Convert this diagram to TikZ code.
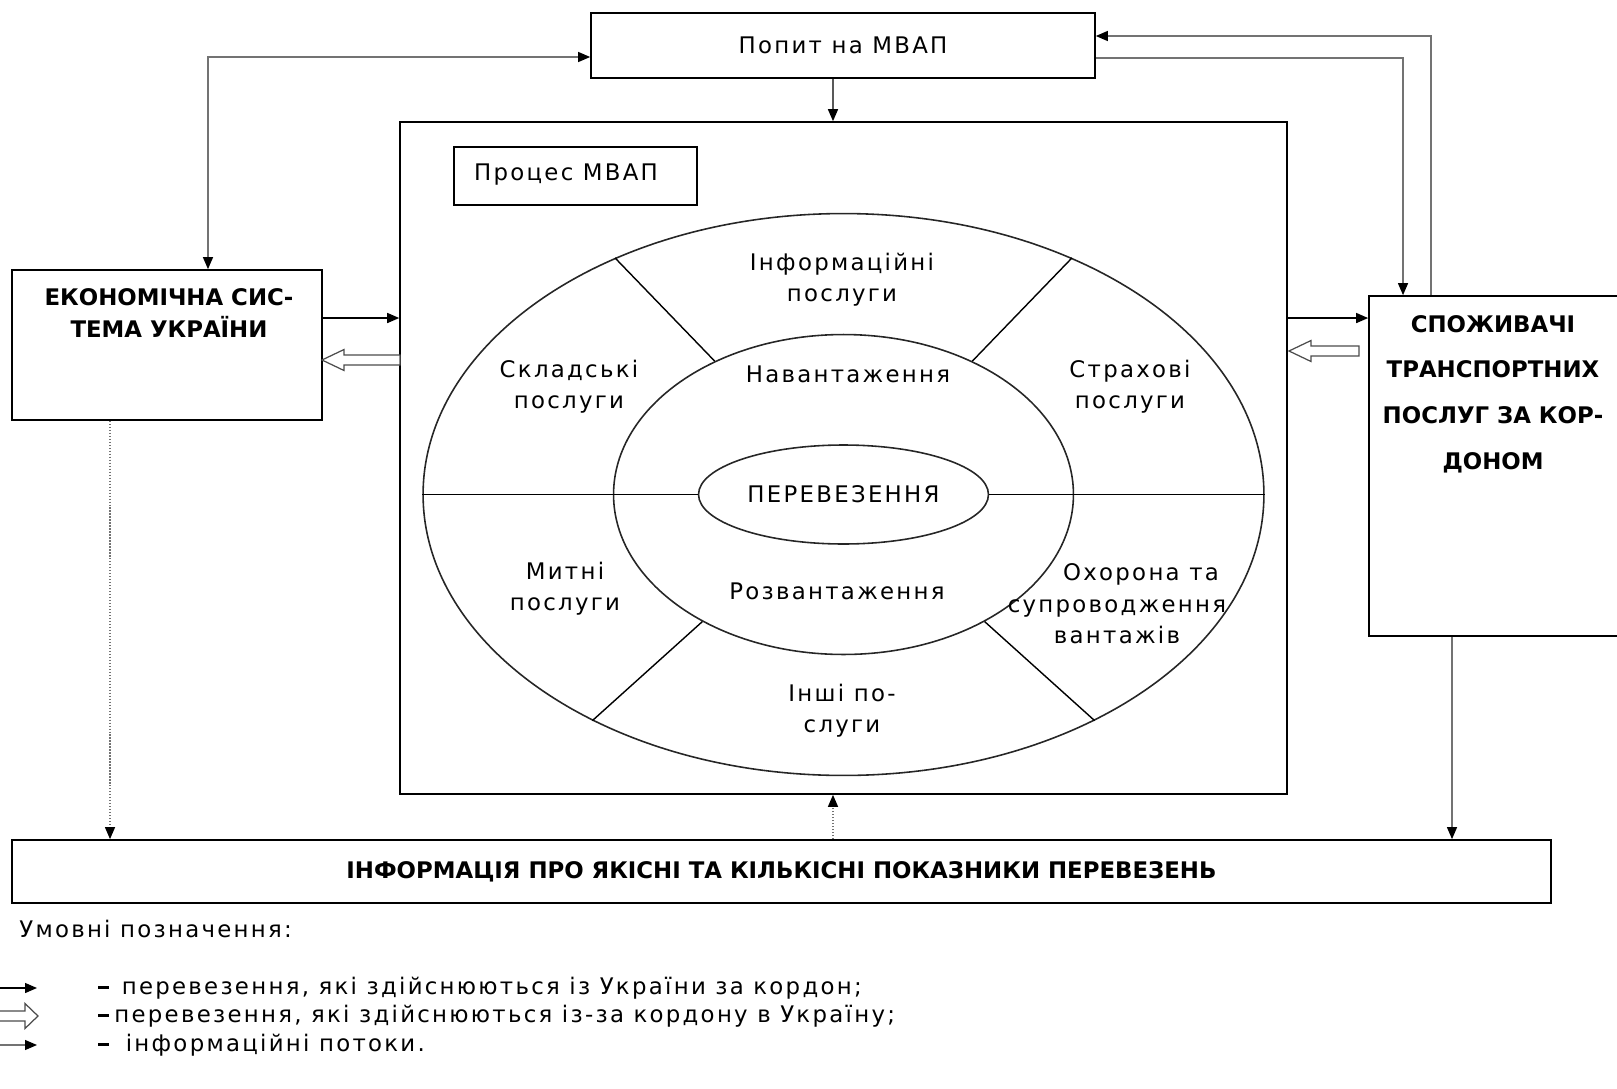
\documentclass[tikz,border=0pt]{standalone}
\usepackage{fontspec}
\setmainfont{DejaVu Sans}[LetterSpace=10, BoldFeatures={LetterSpace=0}]
\usetikzlibrary{arrows.meta, shapes.geometric}

\tikzset{
  >={Triangle[length=0.24cm, width=0.2cm, color=black]},
  box/.style={draw, line width=1pt, inner sep=0pt},
  txt/.style={font=\fontsize{13}{17.6}\selectfont, align=center, inner sep=0pt},
  hdr/.style={font=\fontsize{13}{18}\selectfont\bfseries, align=center, inner sep=0pt},
  oval/.style={draw=black!85, ellipse, line width=0.9pt, inner sep=0pt},
  divider/.style={line width=0.8pt},
  flow/.style={line width=0.8pt, ->},
  info/.style={draw=black!55, line width=0.7pt, ->},
  hollow/.style={draw=black!70, line width=0.7pt, fill=white}
}
\newcommand{\legdash}{\rule[0.22em]{0.22cm}{0.065cm}}

\begin{document}
\begin{tikzpicture}[x=0.02cm, y=-0.02cm]
\useasboundingbox (0,0) rectangle (1617,1089);

% Boxes
\node[box, txt, minimum width=10.08cm, minimum height=1.3cm] (demand) at (843,45.5) {Попит на МВАП};
\node[box, minimum width=17.74cm, minimum height=13.44cm] (process) at (843.5,458) {};
\node[box, minimum width=4.86cm, minimum height=1.16cm] (procname) at (575.5,176) {};
\node[txt] (procnametxt) at (566,175) {Процес МВАП};
\node[box, minimum width=6.2cm, minimum height=3cm] (econ) at (167,345) {};
\node[hdr] (econtxt) at (169,313) {ЕКОНОМІЧНА СИС-\\ТЕМА УКРАЇНИ};
\node[box, minimum width=5cm, minimum height=6.8cm] (consumers) at (1494,466) {};
\node[hdr, font=\fontsize{13}{26}\selectfont\bfseries] (consumerstxt) at (1493,394)
  {СПОЖИВАЧІ\\ТРАНСПОРТНИХ\\ПОСЛУГ ЗА КОР-\\ДОНОМ};
\node[box, hdr, minimum width=30.78cm, minimum height=1.26cm] (info) at (781.5,871.5)
  {ІНФОРМАЦІЯ ПРО ЯКІСНІ ТА КІЛЬКІСНІ ПОКАЗНИКИ ПЕРЕВЕЗЕНЬ};

% Ovals
\node[oval, minimum width=16.82cm, minimum height=11.24cm] (outer) at (843.5,494.5) {};
\node[oval, minimum width=9.2cm, minimum height=6.4cm] (middle) at (843.5,494.5) {};
\node[oval, txt, minimum width=5.8cm, minimum height=1.98cm] (inner) at (843.5,494.5) {ПЕРЕВЕЗЕННЯ};

% Dividing lines
\draw[divider] (outer.west) -- (inner.west);
\draw[divider] (inner.east) -- (outer.east);
\draw[divider] (outer.134) -- (middle.134);
\draw[divider] (outer.46) -- (middle.46);
\draw[divider] (outer.222) -- (middle.222);
\draw[divider] (outer.318) -- (middle.318);

% Sector labels
\node[txt] (infoserv) at (842,280) {Інформаційні\\послуги};
\node[txt] (store) at (569,387) {Складські\\послуги};
\node[txt] (insur) at (1130,387) {Страхові\\послуги};
\node[txt] (load) at (848,374) {Навантаження};
\node[txt] (unload) at (837,591) {Розвантаження};
\node[txt] (customs) at (565,589) {Митні\\послуги};
\node[txt, font=\fontsize{13}{18}\selectfont] (guard) at (1117,604)
  {\hspace*{0.96cm}Охорона та\\супроводження\\вантажів};
\node[txt] (other) at (842,711) {Інші по-\\слуги};

% Transport flows
\draw[flow] ([yshift=0.54cm]econ.east) -- ([yshift=0.54cm]econ.east -| process.west);
\draw[flow] ([yshift=2.8cm]process.east) -- ([yshift=2.8cm]process.east -| consumers.west);
\coordinate (backleft) at (322,360);
\draw[hollow] (backleft) -- ++(22,-10.5) -- ++(0,5.5) -- ++(56,0) -- ++(0,10)
  -- ++(-56,0) -- ++(0,5.5) -- cycle;
\coordinate (backright) at (1289,351);
\draw[hollow] (backright) -- ++(22,-10.5) -- ++(0,5.5) -- ++(48,0) -- ++(0,10)
  -- ++(-48,0) -- ++(0,5.5) -- cycle;

% Information flows
\draw[flow] ([xshift=-0.2cm]demand.south) -- ([xshift=-0.21cm]process.north);
\draw[info, <->] ([xshift=0.82cm]econ.north) |- ([yshift=-0.23cm]demand.west);
\draw[info] ([xshift=-1.26cm]consumers.north) |- ([yshift=0.19cm]demand.east);
\draw[info] ([yshift=-0.25cm]demand.east) -| ([xshift=-1.82cm]consumers.north);
\draw[info, densely dotted] ([xshift=-1.14cm]econ.south) -- ([xshift=-1.14cm]econ.south |- info.north);
\draw[info] ([xshift=-0.84cm]consumers.south) -- ([xshift=-0.84cm]consumers.south |- info.north);
\draw[info, densely dotted] ([xshift=1.03cm]info.north) -- ([xshift=1.03cm]info.north |- process.south);

% Legend
\node[txt, anchor=west] (legendtitle) at (19,929) {Умовні позначення:};
\coordinate (l1a) at (0,988);
\coordinate (l1b) at (37,988);
\draw[flow] (l1a) -- (l1b);
\coordinate (l2) at (38,1016);
\draw[hollow] (l2) -- ++(-13,-12.5) -- ++(0,7.5) -- ++(-26,0) -- ++(0,10)
  -- ++(26,0) -- ++(0,7.5) -- cycle;
\coordinate (l3a) at (0,1045);
\coordinate (l3b) at (37,1045);
\draw[info] (l3a) -- (l3b);
\node[txt, anchor=west] (l1txt) at (98,988) {\legdash\hspace{0.25cm}перевезення, які здійснюються із України за кордон;};
\node[txt, anchor=west] (l2txt) at (98,1016) {\legdash\hspace{0.1cm}перевезення, які здійснюються із-за кордону в Україну;};
\node[txt, anchor=west] (l3txt) at (98,1045) {\legdash\hspace{0.33cm}інформаційні потоки.};
\end{tikzpicture}
\end{document}
